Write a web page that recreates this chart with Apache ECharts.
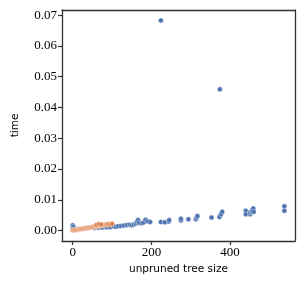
<!DOCTYPE html>
<html><head><meta charset="utf-8">
<script src="https://cdn.jsdelivr.net/npm/echarts@6/dist/echarts.min.js"></script>
<style>html,body{margin:0;padding:0;background:#fff}#c{width:305px;height:291px}</style>
</head><body><div id="c"></div>
<script>
const xTicks = [0, 200, 400];
const yTicks = [0.00, 0.01, 0.02, 0.03, 0.04, 0.05, 0.06, 0.07];
const blueX = [0,0,2,55,65,75,85,95,105,110,115,122,130,138,145,150,155,160,163,166,168,175,180,185,190,197,224,234,244,245,275,275,294,313,315,317,353,373,377,380,440,440,451,451,455,456,459,460,538,538,224,374];
const blueY = [0.0017,0.0008,0.0012,0.0008,0.0009,0.0010,0.0011,0.0011,0.0013,0.0012,0.0014,0.0015,0.0016,0.0018,0.0019,0.0017,0.0020,0.0022,0.0028,0.0034,0.0025,0.0024,0.0026,0.0035,0.0030,0.0028,0.0028,0.0027,0.0029,0.0034,0.0033,0.0038,0.0037,0.0037,0.0042,0.0047,0.0042,0.0044,0.0053,0.0061,0.0064,0.0053,0.0053,0.0059,0.0060,0.0066,0.0072,0.0061,0.0079,0.0064,0.0683,0.0459];
const orangeX = [0,3,6,9,12,15,18,21,24,27,30,33,36,39,42,45,48,51,54,57,60,63,66,69,72,75,78,81,84,87,90,60,66,72,95,100];
const orangeY = [0.0001,0.0002,0.0003,0.0002,0.0004,0.0004,0.0005,0.0005,0.0006,0.0006,0.0007,0.0008,0.0008,0.0009,0.0010,0.0010,0.0011,0.0012,0.0012,0.0013,0.0014,0.0014,0.0015,0.0016,0.0017,0.0017,0.0018,0.0019,0.0019,0.0020,0.0021,0.0018,0.0021,0.0020,0.0019,0.0022];
const xName = 'unpruned tree size';
const yName = 'time';

const zip = (a, b) => a.map((v, i) => [v, b[i]]);
const chart = echarts.init(document.getElementById('c'), null, {renderer: 'canvas'});
const tickFont = {fontFamily: 'Liberation Serif', fontSize: 13, color: '#000'};
const nameFont = {fontFamily: 'DejaVu Sans', fontSize: 10.5, color: '#000'};
const frame = {show: true, onZero: false, lineStyle: {color: '#333', width: 1.3}};
const xMin = -27.2, xMax = 565, yMin = -0.0034, yMax = 0.0717;
chart.setOption({
  animation: false,
  grid: {left: 62, right: 10, top: 10, bottom: 50},
  xAxis: [{
    type: 'value', min: xMin, max: xMax, position: 'bottom',
    name: xName, nameLocation: 'middle', nameGap: 23, nameTextStyle: nameFont,
    splitLine: {show: false},
    axisLine: frame,
    axisTick: {show: true, inside: false, customValues: xTicks, length: 4, lineStyle: {color: '#333', width: 1.2}},
    axisLabel: {customValues: xTicks, ...tickFont, margin: 5, formatter: v => String(Math.round(v))}
  }, {
    type: 'value', min: xMin, max: xMax, position: 'top',
    splitLine: {show: false}, axisLine: frame, axisTick: {show: false}, axisLabel: {show: false}
  }],
  yAxis: [{
    type: 'value', min: yMin, max: yMax, position: 'left',
    name: yName, nameLocation: 'middle', nameGap: 41, nameTextStyle: nameFont,
    splitLine: {show: false},
    axisLine: frame,
    axisTick: {show: true, inside: false, customValues: yTicks, length: 4, lineStyle: {color: '#333', width: 1.2}},
    axisLabel: {customValues: yTicks, ...tickFont, margin: 5, formatter: v => v.toFixed(2)}
  }, {
    type: 'value', min: yMin, max: yMax, position: 'right',
    splitLine: {show: false}, axisLine: frame, axisTick: {show: false}, axisLabel: {show: false}
  }],
  series: [
    {type: 'scatter', data: zip(blueX, blueY), symbolSize: 5, itemStyle: {color: '#4c72b0', borderColor: '#fff', borderWidth: 0.4, opacity: 1}},
    {type: 'scatter', data: zip(orangeX, orangeY), symbolSize: 5, itemStyle: {color: '#dd8452', borderColor: '#fff', borderWidth: 0.4, opacity: 1}}
  ]
});
</script></body></html>
